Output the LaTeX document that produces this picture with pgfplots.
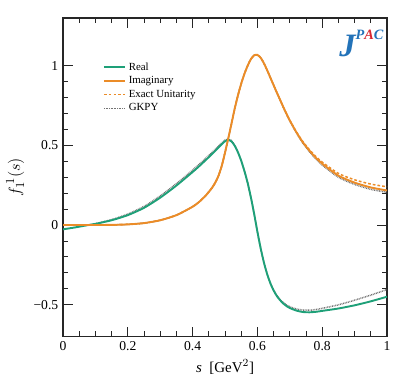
\documentclass[border=0pt]{standalone}
\usepackage{pgfplots}
\pgfplotsset{compat=1.18}
\usepackage{fontspec}
\setmainfont{Liberation Serif}

\definecolor{cReal}{RGB}{30,160,120}
\definecolor{cImag}{RGB}{235,140,40}
\definecolor{cGKPY}{RGB}{115,115,115}
\definecolor{jpacblue}{RGB}{35,115,185}
\definecolor{jpacred}{RGB}{215,40,50}

\begin{document}
\begin{tikzpicture}
\useasboundingbox (-46.3pt,-34.5pt) rectangle (246.8pt,247.2pt);
\begin{axis}[
    at={(0,0)}, anchor=south west,
    scale only axis,
    width=238pt, height=234pt,
    xmin=0, xmax=1, ymin=-0.7, ymax=1.3,
    xtick={0,0.2,0.4,0.6,0.8,1},
    xticklabels={0,0.2,0.4,0.6,0.8,1},
    ytick={-0.5,0,0.5,1},
    yticklabels={−0.5,0,0.5,1},
    minor x tick num=3,
    minor y tick num=4,
    tick align=inside,
    major tick length=7pt,
    minor tick length=3.8pt,
    axis line style={black!85, line width=0.9pt},
    tick style={black!85, line width=0.6pt},
    ticklabel style={font=\fontsize{10}{12}\selectfont},
    xlabel={\fontsize{11}{13}\selectfont\textit{s}\ \ [GeV$^{2}$]},
    ylabel={\fontsize{12.5}{14}\selectfont$f^{\,1}_{1}(s)$},
    legend style={at={(0.11,0.878)}, anchor=north west, draw=none, fill=none,
        font=\fontsize{8}{9}\selectfont, row sep=-0.8pt},
    legend cell align=left,
    legend image code/.code={\draw[#1] (0pt,0pt) -- (15.5pt,0pt);},
    every axis plot/.append style={smooth, tension=0.4},
]
% GKPY real part (drawn underneath)
\addplot[cGKPY, line width=1.1pt, dash pattern=on 0.6pt off 0.6pt, forget plot] coordinates {
 (0.078,0) (0.1,0.009) (0.15,0.034) (0.2,0.069) (0.25,0.117) (0.3,0.183)
 (0.35,0.260) (0.4,0.345) (0.42,0.381) (0.44,0.418) (0.46,0.456) (0.47,0.475)
 (0.48,0.496) (0.49,0.516) (0.5,0.533) (0.51,0.539) (0.52,0.530) (0.53,0.500)
 (0.54,0.458) (0.55,0.404) (0.56,0.338) (0.57,0.263) (0.58,0.172) (0.59,0.069)
 (0.6,-0.043) (0.61,-0.146) (0.62,-0.235) (0.63,-0.307) (0.64,-0.364) (0.65,-0.408)
 (0.66,-0.442) (0.67,-0.467) (0.68,-0.487) (0.69,-0.502) (0.7,-0.513) (0.72,-0.527)
 (0.74,-0.534) (0.76,-0.535) (0.78,-0.531) (0.8,-0.523) (0.85,-0.501) (0.9,-0.472)
 (0.95,-0.440) (1,-0.405)
};
% GKPY imaginary part
\addplot[cGKPY, line width=1.1pt, dash pattern=on 0.6pt off 0.6pt, forget plot] coordinates {
 (0.078,0) (0.1,0.0001) (0.15,0.0009) (0.2,0.004) (0.25,0.012) (0.3,0.030)
 (0.35,0.062) (0.4,0.115) (0.42,0.145) (0.44,0.184) (0.46,0.234) (0.47,0.267)
 (0.48,0.310) (0.49,0.372) (0.5,0.455) (0.51,0.544) (0.52,0.637) (0.53,0.732)
 (0.54,0.815) (0.55,0.888) (0.56,0.950) (0.57,1.001) (0.58,1.042) (0.59,1.066)
 (0.6,1.068) (0.61,1.050) (0.62,1.016) (0.63,0.972) (0.64,0.925) (0.65,0.878)
 (0.66,0.831) (0.67,0.785) (0.68,0.739) (0.69,0.695) (0.7,0.654) (0.72,0.580)
 (0.74,0.515) (0.76,0.462) (0.78,0.416) (0.8,0.377) (0.85,0.300) (0.9,0.255)
 (0.95,0.224) (1,0.205)
};
% Real part
\addplot[cReal, line width=1.4pt] coordinates {
 (0,-0.027) (0.04,-0.014) (0.078,0) (0.1,0.007) (0.15,0.030) (0.2,0.062)
 (0.25,0.108) (0.3,0.172) (0.35,0.248) (0.4,0.333) (0.42,0.369) (0.44,0.407)
 (0.46,0.446) (0.47,0.466) (0.48,0.487) (0.49,0.508) (0.5,0.526) (0.51,0.534)
 (0.52,0.525) (0.53,0.497) (0.54,0.456) (0.55,0.403) (0.56,0.338) (0.57,0.263)
 (0.58,0.172) (0.59,0.069) (0.6,-0.043) (0.61,-0.146) (0.62,-0.235) (0.63,-0.308)
 (0.64,-0.366) (0.65,-0.411) (0.66,-0.446) (0.67,-0.472) (0.68,-0.493) (0.69,-0.509)
 (0.7,-0.521) (0.72,-0.537) (0.74,-0.546) (0.76,-0.548) (0.78,-0.545) (0.8,-0.539)
 (0.85,-0.524) (0.9,-0.504) (0.95,-0.479) (1,-0.45)
};
% Imaginary part
\addplot[cImag, line width=1.4pt] coordinates {
 (0,0) (0.078,0) (0.1,0.0001) (0.15,0.0009) (0.2,0.004) (0.25,0.012) (0.3,0.030)
 (0.35,0.062) (0.4,0.115) (0.42,0.145) (0.44,0.184) (0.46,0.234) (0.47,0.267)
 (0.48,0.310) (0.49,0.372) (0.5,0.455) (0.51,0.544) (0.52,0.637) (0.53,0.732)
 (0.54,0.815) (0.55,0.888) (0.56,0.950) (0.57,1.001) (0.58,1.042) (0.59,1.066)
 (0.6,1.068) (0.61,1.050) (0.62,1.016) (0.63,0.972) (0.64,0.925) (0.65,0.878)
 (0.66,0.831) (0.67,0.786) (0.68,0.740) (0.69,0.697) (0.7,0.656) (0.72,0.583)
 (0.74,0.520) (0.76,0.468) (0.78,0.423) (0.8,0.385) (0.85,0.310) (0.9,0.266)
 (0.95,0.236) (1,0.217)
};
% Exact unitarity
\addplot[cImag, line width=1.1pt, dash pattern=on 2pt off 1.5pt] coordinates {
 (0,0) (0.078,0) (0.1,0.0001) (0.15,0.0009) (0.2,0.004) (0.25,0.012) (0.3,0.030)
 (0.35,0.062) (0.4,0.115) (0.42,0.145) (0.44,0.184) (0.46,0.234) (0.47,0.267)
 (0.48,0.310) (0.49,0.372) (0.5,0.455) (0.51,0.544) (0.52,0.637) (0.53,0.732)
 (0.54,0.815) (0.55,0.888) (0.56,0.950) (0.57,1.001) (0.58,1.042) (0.59,1.066)
 (0.6,1.068) (0.61,1.050) (0.62,1.016) (0.63,0.972) (0.64,0.925) (0.65,0.878)
 (0.66,0.831) (0.67,0.786) (0.68,0.741) (0.69,0.698) (0.7,0.658) (0.72,0.586)
 (0.74,0.525) (0.76,0.474) (0.78,0.431) (0.8,0.395) (0.85,0.324) (0.9,0.284)
 (0.95,0.257) (1,0.240)
};
\addlegendimage{cGKPY, line width=0.9pt, dash pattern=on 0.6pt off 0.6pt}
\legend{Real,Imaginary,Exact Unitarity,GKPY}
\node[anchor=north east, inner sep=0pt] at (rel axis cs:0.99,0.962)
  {\bfseries\itshape\color{jpacblue}\fontsize{24}{24}\selectfont J\raisebox{1.1ex}{\fontsize{10.5}{10.5}\selectfont P\textcolor{jpacred}{A}C}};
\end{axis}
\end{tikzpicture}
\end{document}
